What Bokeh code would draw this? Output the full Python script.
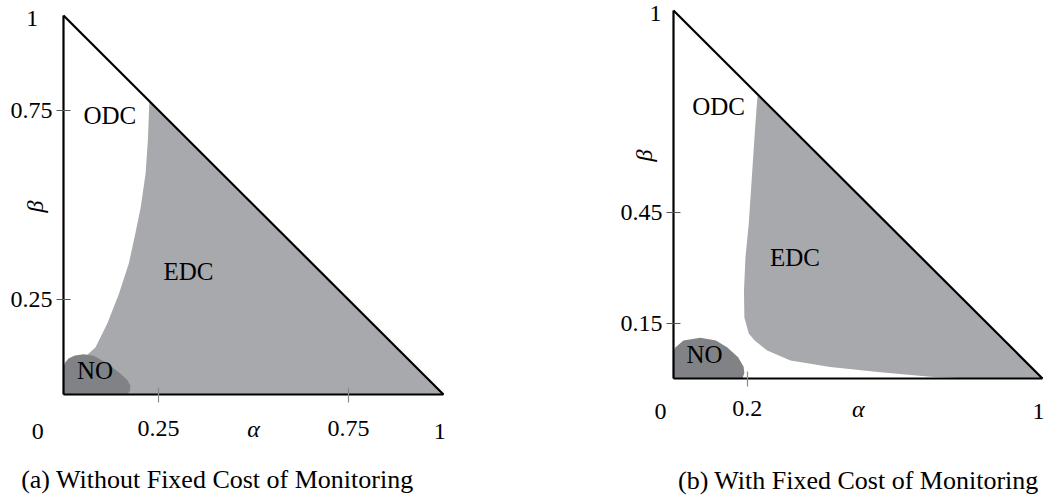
from bokeh.plotting import figure
from bokeh.models import Range1d, FixedTicker, Label
from bokeh.layouts import row
from bokeh.embed import file_html
from bokeh.resources import INLINE

SERIF = "Liberation Serif"
EDC_COLOR = "#a8a9ac"
NO_COLOR = "#818285"

# ---- panel (a): without fixed cost of monitoring ----
# left boundary of the EDC region, from the hypotenuse down into the NO region
a_edc_x = [0.226, 0.222, 0.216, 0.203, 0.189, 0.172, 0.146, 0.115, 0.084, 0.062, 0.050, 0.06, 0.06, 1.0]
a_edc_y = [0.774, 0.670, 0.583, 0.493, 0.425, 0.346, 0.266, 0.187, 0.124, 0.104, 0.095, 0.05, 0.0, 0.0]
# NO region outline
a_no_x = [0.0, 0.0, 0.005, 0.013, 0.030, 0.053, 0.080, 0.116, 0.150, 0.168, 0.176, 0.175, 0.168]
a_no_y = [0.0, 0.075, 0.085, 0.095, 0.103, 0.106, 0.102, 0.082, 0.055, 0.038, 0.024, 0.010, 0.0]
a_xticks = [0.25, 0.75]
a_yticks = [0.25, 0.75]

# ---- panel (b): with fixed cost of monitoring ----
b_edc_x = [0.228, 0.222, 0.213, 0.204, 0.195, 0.191, 0.192, 0.204, 0.220, 0.254, 0.317,
           0.425, 0.561, 0.696, 0.786, 1.0]
b_edc_y = [0.772, 0.693, 0.557, 0.421, 0.329, 0.239, 0.166, 0.122, 0.103, 0.076, 0.049,
           0.031, 0.017, 0.005, 0.001, 0.0]
b_no_x = [0.0, 0.0, 0.005, 0.027, 0.073, 0.115, 0.146, 0.175, 0.190, 0.192, 0.187]
b_no_y = [0.0, 0.075, 0.084, 0.103, 0.111, 0.103, 0.084, 0.058, 0.032, 0.015, 0.0]
b_xticks = [0.2]
b_yticks = [0.15, 0.45]


def panel(width, x_rng, y_rng, edc_x, edc_y, no_x, no_y, xticks, yticks, x_standoff):
    p = figure(width=width, height=499, output_backend="svg", toolbar_location=None,
               x_range=Range1d(*x_rng), y_range=Range1d(*y_rng), min_border=0)
    p.grid.visible = False
    p.outline_line_color = None
    p.background_fill_color = "white"
    p.border_fill_color = "white"

    p.patch(edc_x, edc_y, fill_color=EDC_COLOR, line_color=None)
    p.patch(no_x, no_y, fill_color=NO_COLOR, line_color=None)
    p.line([0, 1], [1, 0], line_color="black", line_width=2.2)

    for ax, ticks, tcol in ((p.xaxis[0], xticks, "#8a8a8a"), (p.yaxis[0], yticks, "#555555")):
        ax.ticker = FixedTicker(ticks=ticks)
        ax.fixed_location = 0
        ax.bounds = (0, 1)
        ax.minor_tick_line_color = None
        ax.axis_line_color = "black"
        ax.axis_line_width = 2.2
        ax.major_tick_line_color = tcol
        ax.major_tick_line_width = 1.2
        ax.major_label_text_font = SERIF
        ax.major_label_text_font_size = "24px"
        ax.major_label_text_color = "black"
    p.xaxis.major_tick_in = 7
    p.xaxis.major_tick_out = 8
    p.xaxis.major_label_standoff = x_standoff
    p.yaxis.major_tick_in = 7
    p.yaxis.major_tick_out = 7
    p.yaxis.major_label_standoff = 4
    return p


def label(p, x, y, text, size="24px", style="normal", angle=0.0):
    p.add_layout(Label(x=x, y=y, x_units="data", y_units="data", text=text,
                       text_font=SERIF, text_font_size=size,
                       text_font_style=style, text_align="center",
                       text_baseline="middle", angle=angle, text_color="black"))


# panel (a): data 0..1 spans 380 px across, 379 px up
pa = panel(540, (-63 / 380, 477 / 380), (-105 / 379, 1 + 15 / 379),
           a_edc_x, a_edc_y, a_no_x, a_no_y, a_xticks, a_yticks, 18)
label(pa, -0.082, 0.993, "1")
label(pa, -0.075, 0.496, "β", style="italic", angle=1.5708)
label(pa, -0.068, -0.097, "0")
label(pa, 0.50, -0.092, "α", style="italic")
label(pa, 0.99, -0.097, "1")
label(pa, 0.122, 0.737, "ODC", size="25px")
label(pa, 0.329, 0.324, "EDC", size="25px")
label(pa, 0.083, 0.063, "NO", size="25px")
label(pa, 0.405, -0.225, "(a) Without Fixed Cost of Monitoring", size="26px")

# panel (b): data 0..1 spans 369 px across, 368 px up
pb = panel(505, (-133 / 369, 372 / 369), (-121 / 368, 1 + 10 / 368),
           b_edc_x, b_edc_y, b_no_x, b_no_y, b_xticks, b_yticks, 14)
label(pb, -0.049, 0.991, "1")
label(pb, -0.081, 0.606, "β", style="italic", angle=1.5708)
label(pb, -0.035, -0.089, "0")
label(pb, 0.501, -0.083, "α", style="italic")
label(pb, 0.989, -0.089, "1")
label(pb, 0.122, 0.740, "ODC", size="25px")
label(pb, 0.329, 0.328, "EDC", size="25px")
label(pb, 0.084, 0.064, "NO", size="25px")
label(pb, 0.501, -0.277, "(b) With Fixed Cost of Monitoring", size="26px")

layout = row(pa, pb)
open("out.html", "w").write(file_html(layout, INLINE))
